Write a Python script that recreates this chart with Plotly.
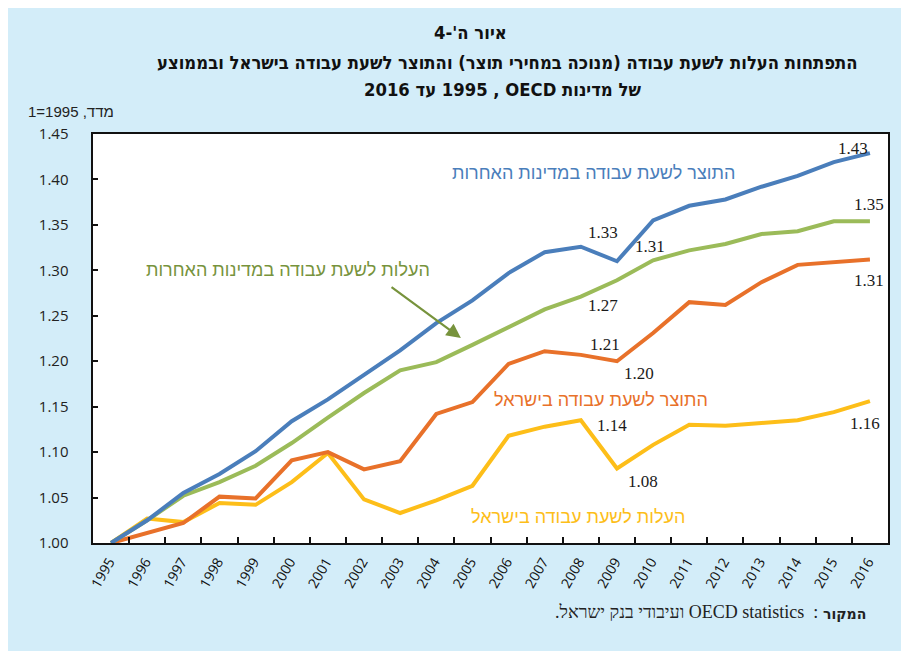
import plotly.graph_objects as go

years = [str(y) for y in range(1995, 2017)]

# Output per work hour, other OECD countries (blue)
output_oecd = [1.000, 1.025, 1.055, 1.076, 1.101, 1.134, 1.158, 1.185, 1.212, 1.242, 1.267,
               1.297, 1.320, 1.326, 1.310, 1.355, 1.371, 1.378, 1.392, 1.404, 1.419, 1.429]
# Labor cost per work hour, other OECD countries (green)
cost_oecd = [1.000, 1.025, 1.052, 1.067, 1.085, 1.110, 1.138, 1.165, 1.190, 1.199, 1.218,
             1.237, 1.257, 1.271, 1.289, 1.311, 1.322, 1.329, 1.340, 1.343, 1.354, 1.354]
# Output per work hour, Israel (orange)
output_isr = [1.000, 1.011, 1.022, 1.051, 1.049, 1.091, 1.100, 1.081, 1.090, 1.142, 1.155,
              1.197, 1.211, 1.207, 1.200, 1.231, 1.265, 1.262, 1.287, 1.306, 1.309, 1.312]
# Labor cost per work hour, Israel (yellow)
cost_isr = [1.000, 1.027, 1.023, 1.044, 1.042, 1.067, 1.099, 1.048, 1.033, 1.047, 1.063,
            1.118, 1.128, 1.135, 1.082, 1.108, 1.130, 1.129, 1.132, 1.135, 1.144, 1.156]

y_ticks = [1.00, 1.05, 1.10, 1.15, 1.20, 1.25, 1.30, 1.35, 1.40, 1.45]
y_tick_text = ["1.00", "1.05", "1.10", "1.15", "1.20", "1.25", "1.30", "1.35", "1.40", "1.45"]

BLUE = "#4A7EBB"
GREEN = "#9BBB59"
ORANGE = "#E8712A"
YELLOW = "#FDBE19"
BG = "#D3EDF9"

RLE = "\u202b"
PDF = "\u202c"
RLM = "\u200f"
NBSP = "\u00a0"


def rtl(s):
    return RLE + s + PDF


fig = go.Figure()
series = [
    (output_oecd, BLUE),
    (cost_oecd, GREEN),
    (output_isr, ORANGE),
    (cost_isr, YELLOW),
]
for vals, col in [series[3], series[2], series[1], series[0]]:
    fig.add_trace(go.Scatter(x=years, y=vals, mode="lines",
                             line=dict(color=col, width=4), hoverinfo="skip",
                             showlegend=False))

annotations = []

# value labels anchored to data points (x given as category index)
num_font = dict(family="Liberation Serif", size=17, color="#1a1a1a")
value_labels = [
    (output_oecd, 21, -17, 5),
    (cost_oecd, 21, -1, 17),
    (output_isr, 21, -1, -21),
    (output_oecd, 13, 22, 14),
    (cost_oecd, 15, -3, 14),
    (cost_oecd, 13, 22, -9),
    (output_isr, 13, 24, 10),
    (output_isr, 14, 22, -12),
    (cost_isr, 13, 31, -5),
    (cost_isr, 14, 26, -13),
    (cost_isr, 21, -5, -22),
]
for vals, i, xs, ys in value_labels:
    annotations.append(dict(x=i, y=vals[i], xref="x", yref="y",
                            text=f"{vals[i]:.2f}", showarrow=False,
                            xshift=xs, yshift=ys, font=num_font))

lab_font = "Liberation Sans"
series_labels = [
    ("התוצר לשעת עבודה במדינות האחרות", 13.34, 1.407, BLUE),
    ("העלות לשעת עבודה במדינות האחרות", 4.9, 1.300, "#77933C"),
    ("התוצר לשעת עבודה בישראל", 13.56, 1.157, ORANGE),
    ("העלות לשעת עבודה בישראל", 12.92, 1.0286, YELLOW),
]
for txt, xi, yv, col in series_labels:
    annotations.append(dict(x=xi, y=yv, xref="x", yref="y", text=rtl(txt),
                            showarrow=False, font=dict(family=lab_font, size=18, color=col)))

# arrow
annotations.append(dict(x=9.68, y=1.2255, ax=7.72, ay=1.2827, xref="x", yref="y",
                        axref="x", ayref="y", text="", showarrow=True,
                        arrowhead=2, arrowsize=1.3, arrowwidth=2.2, arrowcolor="#77933C"))

# title
title_font = dict(family="Liberation Sans Narrow, DejaVu Sans Condensed, Liberation Sans",
                  size=18.3, color="#111111")
annotations += [
    dict(x=(470 - 93) / 795, y=(543 - 20) / 409, xref="paper", yref="paper",
         text="<b>" + rtl("איור ה'-4") + "</b>", showarrow=False, font=title_font),
    dict(x=(507 - 93) / 795, y=(543 - 50) / 409, xref="paper", yref="paper",
         text="<b>" + rtl("התפתחות העלות לשעת עבודה (מנוכה במחירי תוצר) והתוצר לשעת עבודה בישראל ובממוצע") + "</b>",
         showarrow=False, font=title_font),
    dict(x=(502 - 93) / 795, y=(543 - 77) / 409, xref="paper", yref="paper",
         text="<b>" + rtl("של מדינות OECD ," + RLM + " 1995 עד 2016") + "</b>",
         showarrow=False, font=title_font),
]

# y axis label
annotations.append(dict(x=(116 - 93) / 795, y=(543 - 101) / 409, xref="paper", yref="paper",
                        xanchor="right", text=rtl("מדד, 1995=1"), showarrow=False,
                        font=dict(family="Liberation Sans", size=15, color="#222222")))

# source
src_font = dict(family="Liberation Serif", size=18, color="#222222")
annotations.append(dict(x=(868 - 93) / 795, y=(543 - 624) / 409, xref="paper", yref="paper",
                        xanchor="right", text="<b>המקור</b>", showarrow=False,
                        font=dict(family="DejaVu Sans", size=14, color="#222222")))
annotations.append(dict(x=(820 - 93) / 795, y=(543 - 624) / 409, xref="paper", yref="paper",
                        xanchor="right", text=rtl(":  OECD statistics ועיבודי בנק ישראל."),
                        showarrow=False, font=src_font))

fig.update_layout(
    width=901, height=643,
    margin=dict(l=85, r=21, t=126, b=108),
    paper_bgcolor=BG,
    plot_bgcolor="white",
    annotations=annotations,
    showlegend=False,
    xaxis=dict(type="category", tickson="boundaries", ticks="inside", ticklen=6,
               tickcolor="#111111", tickwidth=1.5,
               tickvals=years, ticktext=[y + NBSP for y in years],
               showline=True, linecolor="#111111", linewidth=2, mirror=True,
               showgrid=False, tickangle=-60,
               tickfont=dict(family="Open Sans", size=14, color="#111111"),
               range=[-0.5, 21.5]),
    yaxis=dict(range=[1.0, 1.45], tickvals=y_ticks,
               ticktext=[t + NBSP * 5 for t in y_tick_text],
               ticks="inside", ticklen=5, tickcolor="#111111", tickwidth=1.5,
               showline=True, linecolor="#111111", linewidth=2, mirror=True,
               showgrid=False, zeroline=False,
               tickfont=dict(family="Open Sans", size=15, color="#222222")),
)

fig.write_html("out.html")
